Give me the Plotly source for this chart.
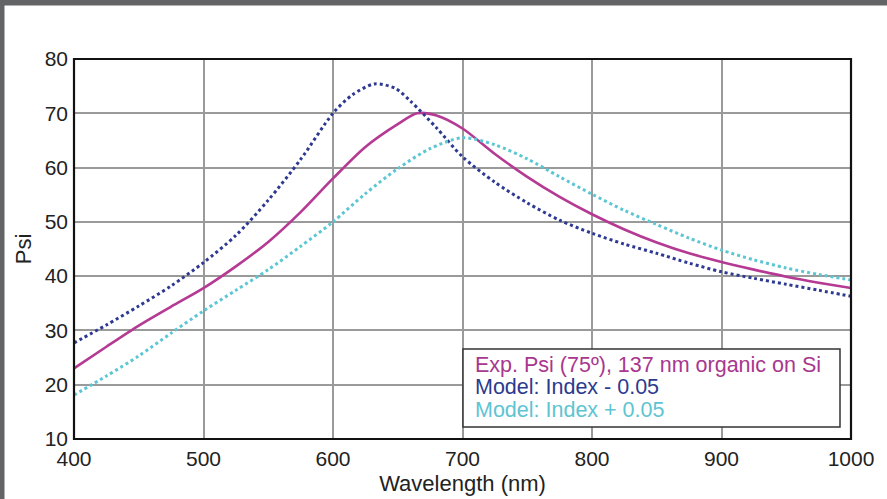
import plotly.graph_objects as go

# ---- data ----
wl_exp = [400, 425, 450, 475, 500, 525, 550, 575, 600, 625, 650, 665, 680, 700, 725, 750, 775, 800, 825, 850, 875, 900, 925, 950, 975, 1000]
psi_exp = [23.0, 27.0, 30.9, 34.4, 37.8, 41.8, 46.3, 51.8, 58.0, 63.8, 68.0, 70.0, 69.6, 67.2, 62.5, 58.3, 54.6, 51.4, 48.6, 46.2, 44.2, 42.6, 41.2, 39.9, 38.8, 37.8]

wl_minus = [400, 425, 450, 475, 500, 525, 550, 575, 600, 615, 632, 648, 660, 680, 700, 725, 750, 775, 800, 825, 850, 875, 900, 925, 950, 975, 1000]
psi_minus = [27.7, 31.0, 34.5, 38.2, 42.5, 47.5, 54.0, 61.5, 70.0, 73.4, 75.4, 74.6, 72.2, 67.3, 62.0, 57.3, 53.5, 50.3, 47.9, 45.9, 44.2, 42.4, 40.8, 39.6, 38.5, 37.4, 36.3]

wl_plus = [400, 425, 450, 475, 500, 525, 550, 575, 600, 625, 650, 675, 700, 725, 750, 775, 800, 825, 850, 875, 900, 925, 950, 975, 1000]
psi_plus = [18.1, 21.6, 25.3, 29.5, 33.6, 37.4, 41.2, 45.5, 50.0, 55.2, 59.8, 63.5, 65.5, 64.2, 61.6, 58.3, 55.1, 52.1, 49.5, 47.0, 44.8, 43.0, 41.5, 40.3, 39.3]

x_ticks = [400, 500, 600, 700, 800, 900, 1000]
y_ticks = [10, 20, 30, 40, 50, 60, 70, 80]

labels = ["Exp. Psi (75º), 137 nm organic on Si", "Model: Index - 0.05", "Model: Index + 0.05"]
line_colors = ["#b43a93", "#2e3a92", "#5cc6d3"]
text_colors = ["#a8378e", "#2c3a8e", "#5ec4d2"]

W, H = 887, 499
L, R, T, B = 74, 851, 59, 439
FONT = "Liberation Sans, Arial, sans-serif"


def px(x):
    return (x - L) / (R - L)


def py(y):
    return (B - y) / (B - T)


fig = go.Figure()
fig.add_trace(go.Scatter(x=wl_exp, y=psi_exp, mode="lines", name=labels[0],
                         line=dict(color=line_colors[0], width=2.6, shape="spline", smoothing=0.8)))
fig.add_trace(go.Scatter(x=wl_minus, y=psi_minus, mode="lines", name=labels[1],
                         line=dict(color=line_colors[1], width=3, dash="3px,3px", shape="spline", smoothing=0.8)))
fig.add_trace(go.Scatter(x=wl_plus, y=psi_plus, mode="lines", name=labels[2],
                         line=dict(color=line_colors[2], width=3, dash="3px,3px", shape="spline", smoothing=0.8)))

shapes = [
    # plot frame
    dict(type="rect", xref="paper", yref="paper", x0=0, x1=1, y0=0, y1=1,
         line=dict(color="#111", width=2.2), layer="above"),
    # legend box
    dict(type="rect", xref="paper", yref="paper", x0=px(463), x1=px(840), y0=py(427), y1=py(349),
         line=dict(color="#333", width=1.5), fillcolor="white", layer="above"),
    # screenshot border strips
    dict(type="rect", xref="paper", yref="paper", x0=px(-5), x1=px(W + 5), y0=py(5.5), y1=py(-5),
         line=dict(width=0), fillcolor="#636466", layer="above"),
    dict(type="rect", xref="paper", yref="paper", x0=px(-5), x1=px(4.5), y0=py(H + 5), y1=py(-5),
         line=dict(width=0), fillcolor="#636466", layer="above"),
]

annotations = []
for i, (lab, yy) in enumerate(zip(labels, [365, 387, 410])):
    annotations.append(dict(xref="paper", yref="paper", x=px(473), y=py(yy), text=lab,
                            showarrow=False, xanchor="left", yanchor="middle",
                            font=dict(family=FONT, size=21.5, color=text_colors[i])))

fig.update_layout(
    width=W, height=H,
    margin=dict(l=L, r=W - R, t=T, b=H - B, autoexpand=False),
    paper_bgcolor="white", plot_bgcolor="white",
    showlegend=False,
    font=dict(family=FONT, size=21, color="#222"),
    shapes=shapes, annotations=annotations,
    xaxis=dict(range=[400, 1000], tickvals=x_ticks, ticktext=[str(v) for v in x_ticks],
               showgrid=True, gridcolor="#9a9a9a", gridwidth=1.6, zeroline=False,
               ticks="", ticklen=0, ticklabelstandoff=5, tickfont=dict(size=21, color="#222"),
               title=dict(text="Wavelength (nm)", font=dict(size=22, color="#222"), standoff=6)),
    yaxis=dict(range=[10, 80], tickvals=y_ticks, ticktext=[str(v) for v in y_ticks],
               showgrid=True, gridcolor="#9a9a9a", gridwidth=1.6, zeroline=False,
               ticks="", ticklen=0, ticklabelstandoff=5, tickfont=dict(size=21, color="#222"),
               title=dict(text="Psi", font=dict(size=22, color="#222"), standoff=6)),
)

fig.write_html("out.html", config={"displayModeBar": False},
               post_script="document.body.style.margin='0';document.body.style.overflow='hidden';")
